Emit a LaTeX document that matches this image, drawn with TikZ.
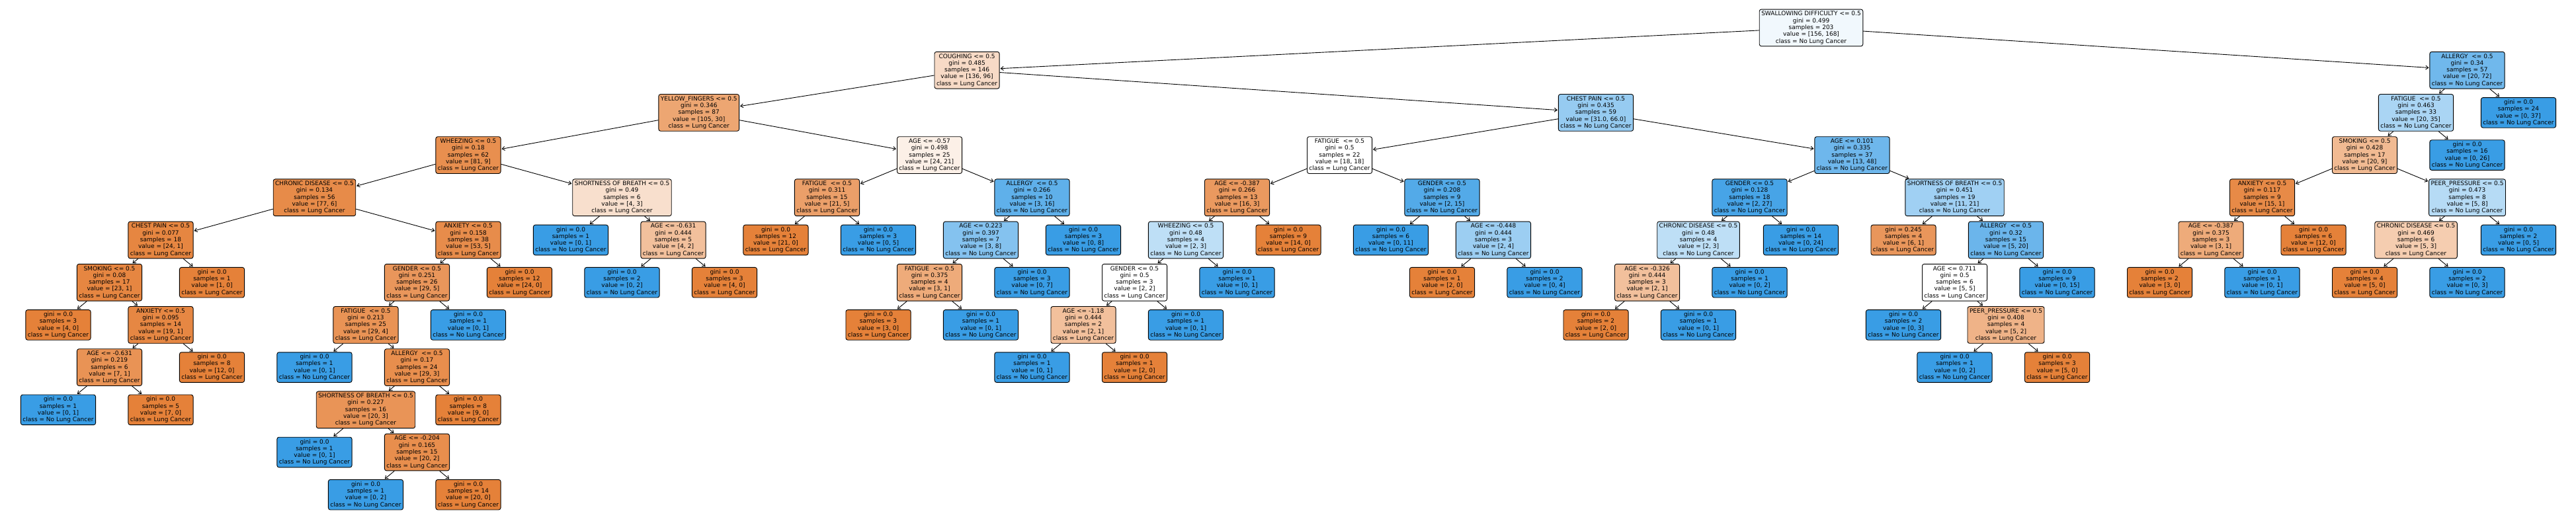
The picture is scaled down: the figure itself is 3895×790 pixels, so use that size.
\documentclass[tikz,border=0pt]{standalone}
\usepackage{fontspec}
\setmainfont{DejaVu Sans}
\usetikzlibrary{arrows.meta}
\definecolor{lungc}{HTML}{E58139}
\definecolor{nolc}{HTML}{399DE5}
\newcommand\clsLC{Lung Cancer}
\newcommand\clsNLC{No Lung Cancer}
\newcommand\dsplit[5]{#1\\gini = #2\\samples = #3\\value = [#4]\\class = #5}
\newcommand\dleaf[4]{gini = #1\\samples = #2\\value = [#3]\\class = #4}
\tikzset{
  tnode/.style={draw=black, line width=0.9pt, rounded corners=3pt, align=center,
    inner xsep=3pt, inner ysep=3pt, font=\fontsize{9}{10.3}\selectfont},
  lc/.style={tnode, fill=lungc!#1!white},
  nl/.style={tnode, fill=nolc!#1!white},
  edge/.style={-{Straight Barb[length=4pt,width=6pt]}, line width=0.9pt, shorten >=1pt}
}

\begin{document}
\begin{tikzpicture}[x=77.5pt, y=-64.2pt]
  \useasboundingbox (-10.5pt, 42pt) rectangle (3884.5pt, -748pt);

  % Root
  \node[nl=7] (n0) at (35.2, 0) {\dsplit{SWALLOWING DIFFICULTY <= 0.5}{0.499}{203}{156, 168}{\clsNLC}};
  \node[lc=29] (n1) at (18.73, 1) {\dsplit{COUGHING <= 0.5}{0.485}{146}{136, 96}{\clsLC}};

  % YELLOW_FINGERS branch
  \node[lc=71] (n2) at (13.5, 2) {\dsplit{YELLOW\_FINGERS <= 0.5}{0.346}{87}{105, 30}{\clsLC}};
  \node[lc=89] (n3) at (9, 3) {\dsplit{WHEEZING <= 0.5}{0.18}{62}{81, 9}{\clsLC}};
  \node[lc=92] (n4) at (6, 4) {\dsplit{CHRONIC DISEASE <= 0.5}{0.134}{56}{77, 6}{\clsLC}};
  \node[lc=96] (n5) at (3, 5) {\dsplit{CHEST PAIN <= 0.5}{0.077}{18}{24, 1}{\clsLC}};
  \node[lc=96] (n6) at (2, 6) {\dsplit{SMOKING <= 0.5}{0.08}{17}{23, 1}{\clsLC}};
  \node[lc=100] (n7) at (1, 7) {\dleaf{0.0}{3}{4, 0}{\clsLC}};
  \node[lc=95] (n8) at (3, 7) {\dsplit{ANXIETY <= 0.5}{0.095}{14}{19, 1}{\clsLC}};
  \node[lc=86] (n9) at (2, 8) {\dsplit{AGE <= -0.631}{0.219}{6}{7, 1}{\clsLC}};
  \node[nl=100] (n10) at (1, 9) {\dleaf{0.0}{1}{0, 1}{\clsNLC}};
  \node[lc=100] (n11) at (3, 9) {\dleaf{0.0}{5}{7, 0}{\clsLC}};
  \node[lc=100] (n12) at (4, 8) {\dleaf{0.0}{8}{12, 0}{\clsLC}};
  \node[lc=100] (n13) at (4, 6) {\dleaf{0.0}{1}{1, 0}{\clsLC}};
  \node[lc=91] (n14) at (9, 5) {\dsplit{ANXIETY <= 0.5}{0.158}{38}{53, 5}{\clsLC}};
  \node[lc=83] (n15) at (8, 6) {\dsplit{GENDER <= 0.5}{0.251}{26}{29, 5}{\clsLC}};
  \node[lc=86] (n16) at (7, 7) {\dsplit{FATIGUE ~<= 0.5}{0.213}{25}{29, 4}{\clsLC}};
  \node[nl=100] (n17) at (6, 8) {\dleaf{0.0}{1}{0, 1}{\clsNLC}};
  \node[lc=90] (n18) at (8, 8) {\dsplit{ALLERGY ~<= 0.5}{0.17}{24}{29, 3}{\clsLC}};
  \node[lc=85] (n19) at (7, 9) {\dsplit{SHORTNESS OF BREATH <= 0.5}{0.227}{16}{20, 3}{\clsLC}};
  \node[nl=100] (n20) at (6, 10) {\dleaf{0.0}{1}{0, 1}{\clsNLC}};
  \node[lc=90] (n21) at (8, 10) {\dsplit{AGE <= -0.204}{0.165}{15}{20, 2}{\clsLC}};
  \node[nl=100] (n22) at (7, 11) {\dleaf{0.0}{1}{0, 2}{\clsNLC}};
  \node[lc=100] (n23) at (9, 11) {\dleaf{0.0}{14}{20, 0}{\clsLC}};
  \node[lc=100] (n24) at (9, 9) {\dleaf{0.0}{8}{9, 0}{\clsLC}};
  \node[nl=100] (n25) at (9, 7) {\dleaf{0.0}{1}{0, 1}{\clsNLC}};
  \node[lc=100] (n26) at (10, 6) {\dleaf{0.0}{12}{24, 0}{\clsLC}};
  \node[lc=25] (n27) at (12, 4) {\dsplit{SHORTNESS OF BREATH <= 0.5}{0.49}{6}{4, 3}{\clsLC}};
  \node[nl=100] (n28) at (11, 5) {\dleaf{0.0}{1}{0, 1}{\clsNLC}};
  \node[lc=50] (n29) at (13, 5) {\dsplit{AGE <= -0.631}{0.444}{5}{4, 2}{\clsLC}};
  \node[nl=100] (n30) at (12, 6) {\dleaf{0.0}{2}{0, 2}{\clsNLC}};
  \node[lc=100] (n31) at (14, 6) {\dleaf{0.0}{3}{4, 0}{\clsLC}};
  \node[lc=12] (n32) at (18, 3) {\dsplit{AGE <= -0.57}{0.498}{25}{24, 21}{\clsLC}};
  \node[lc=76] (n33) at (16, 4) {\dsplit{FATIGUE ~<= 0.5}{0.311}{15}{21, 5}{\clsLC}};
  \node[lc=100] (n34) at (15, 5) {\dleaf{0.0}{12}{21, 0}{\clsLC}};
  \node[nl=100] (n35) at (17, 5) {\dleaf{0.0}{3}{0, 5}{\clsNLC}};
  \node[nl=81] (n36) at (20, 4) {\dsplit{ALLERGY ~<= 0.5}{0.266}{10}{3, 16}{\clsNLC}};
  \node[nl=62] (n37) at (19, 5) {\dsplit{AGE <= 0.223}{0.397}{7}{3, 8}{\clsNLC}};
  \node[lc=67] (n38) at (18, 6) {\dsplit{FATIGUE ~<= 0.5}{0.375}{4}{3, 1}{\clsLC}};
  \node[lc=100] (n39) at (17, 7) {\dleaf{0.0}{3}{3, 0}{\clsLC}};
  \node[nl=100] (n40) at (19, 7) {\dleaf{0.0}{1}{0, 1}{\clsNLC}};
  \node[nl=100] (n41) at (20, 6) {\dleaf{0.0}{3}{0, 7}{\clsNLC}};
  \node[nl=100] (n42) at (21, 5) {\dleaf{0.0}{3}{0, 8}{\clsNLC}};

  % CHEST PAIN branch
  \node[nl=53] (n43) at (31, 2) {\dsplit{CHEST PAIN <= 0.5}{0.435}{59}{31.0, 66.0}{\clsNLC}};
  \node[lc=0] (n44) at (26, 3) {\dsplit{FATIGUE ~<= 0.5}{0.5}{22}{18, 18}{\clsLC}};
  \node[lc=81] (n45) at (24, 4) {\dsplit{AGE <= -0.387}{0.266}{13}{16, 3}{\clsLC}};
  \node[nl=33] (n46) at (23, 5) {\dsplit{WHEEZING <= 0.5}{0.48}{4}{2, 3}{\clsNLC}};
  \node[lc=0] (n47) at (22, 6) {\dsplit{GENDER <= 0.5}{0.5}{3}{2, 2}{\clsLC}};
  \node[lc=50] (n48) at (21, 7) {\dsplit{AGE <= -1.18}{0.444}{2}{2, 1}{\clsLC}};
  \node[nl=100] (n49) at (20, 8) {\dleaf{0.0}{1}{0, 1}{\clsNLC}};
  \node[lc=100] (n50) at (22, 8) {\dleaf{0.0}{1}{2, 0}{\clsLC}};
  \node[nl=100] (n51) at (23, 7) {\dleaf{0.0}{1}{0, 1}{\clsNLC}};
  \node[nl=100] (n52) at (24, 6) {\dleaf{0.0}{1}{0, 1}{\clsNLC}};
  \node[lc=100] (n53) at (25, 5) {\dleaf{0.0}{9}{14, 0}{\clsLC}};
  \node[nl=87] (n54) at (28, 4) {\dsplit{GENDER <= 0.5}{0.208}{9}{2, 15}{\clsNLC}};
  \node[nl=100] (n55) at (27, 5) {\dleaf{0.0}{6}{0, 11}{\clsNLC}};
  \node[nl=50] (n56) at (29, 5) {\dsplit{AGE <= -0.448}{0.444}{3}{2, 4}{\clsNLC}};
  \node[lc=100] (n57) at (28, 6) {\dleaf{0.0}{1}{2, 0}{\clsLC}};
  \node[nl=100] (n58) at (30, 6) {\dleaf{0.0}{2}{0, 4}{\clsNLC}};
  \node[nl=73] (n59) at (36, 3) {\dsplit{AGE <= 0.101}{0.335}{37}{13, 48}{\clsNLC}};
  \node[nl=93] (n60) at (34, 4) {\dsplit{GENDER <= 0.5}{0.128}{18}{2, 27}{\clsNLC}};
  \node[nl=33] (n61) at (33, 5) {\dsplit{CHRONIC DISEASE <= 0.5}{0.48}{4}{2, 3}{\clsNLC}};
  \node[lc=50] (n62) at (32, 6) {\dsplit{AGE <= -0.326}{0.444}{3}{2, 1}{\clsLC}};
  \node[lc=100] (n63) at (31, 7) {\dleaf{0.0}{2}{2, 0}{\clsLC}};
  \node[nl=100] (n64) at (33, 7) {\dleaf{0.0}{1}{0, 1}{\clsNLC}};
  \node[nl=100] (n65) at (34, 6) {\dleaf{0.0}{1}{0, 2}{\clsNLC}};
  \node[nl=100] (n66) at (35, 5) {\dleaf{0.0}{14}{0, 24}{\clsNLC}};
  \node[nl=48] (n67) at (38, 4) {\dsplit{SHORTNESS OF BREATH <= 0.5}{0.451}{19}{11, 21}{\clsNLC}};
  \node[lc=83] (n68) at (37, 5) {\dleaf{0.245}{4}{6, 1}{\clsLC}};
  \node[nl=75] (n69) at (39, 5) {\dsplit{ALLERGY ~<= 0.5}{0.32}{15}{5, 20}{\clsNLC}};
  \node[lc=0] (n70) at (38, 6) {\dsplit{AGE <= 0.711}{0.5}{6}{5, 5}{\clsLC}};
  \node[nl=100] (n71) at (37, 7) {\dleaf{0.0}{2}{0, 3}{\clsNLC}};
  \node[lc=60] (n72) at (39, 7) {\dsplit{PEER\_PRESSURE <= 0.5}{0.408}{4}{5, 2}{\clsLC}};
  \node[nl=100] (n73) at (38, 8) {\dleaf{0.0}{1}{0, 2}{\clsNLC}};
  \node[lc=100] (n74) at (40, 8) {\dleaf{0.0}{3}{5, 0}{\clsLC}};
  \node[nl=100] (n75) at (40, 6) {\dleaf{0.0}{9}{0, 15}{\clsNLC}};

  % ALLERGY branch
  \node[nl=72] (n76) at (48, 1) {\dsplit{ALLERGY ~<= 0.5}{0.34}{57}{20, 72}{\clsNLC}};
  \node[nl=43] (n77) at (47, 2) {\dsplit{FATIGUE ~<= 0.5}{0.463}{33}{20, 35}{\clsNLC}};
  \node[lc=55] (n78) at (46, 3) {\dsplit{SMOKING <= 0.5}{0.428}{17}{20, 9}{\clsLC}};
  \node[lc=93] (n79) at (44, 4) {\dsplit{ANXIETY <= 0.5}{0.117}{9}{15, 1}{\clsLC}};
  \node[lc=67] (n80) at (43, 5) {\dsplit{AGE <= -0.387}{0.375}{3}{3, 1}{\clsLC}};
  \node[lc=100] (n81) at (42, 6) {\dleaf{0.0}{2}{3, 0}{\clsLC}};
  \node[nl=100] (n82) at (44, 6) {\dleaf{0.0}{1}{0, 1}{\clsNLC}};
  \node[lc=100] (n83) at (45, 5) {\dleaf{0.0}{6}{12, 0}{\clsLC}};
  \node[nl=37] (n84) at (48, 4) {\dsplit{PEER\_PRESSURE <= 0.5}{0.473}{8}{5, 8}{\clsNLC}};
  \node[lc=40] (n85) at (47, 5) {\dsplit{CHRONIC DISEASE <= 0.5}{0.469}{6}{5, 3}{\clsLC}};
  \node[lc=100] (n86) at (46, 6) {\dleaf{0.0}{4}{5, 0}{\clsLC}};
  \node[nl=100] (n87) at (48, 6) {\dleaf{0.0}{2}{0, 3}{\clsNLC}};
  \node[nl=100] (n88) at (49, 5) {\dleaf{0.0}{2}{0, 5}{\clsNLC}};
  \node[nl=100] (n89) at (48, 3) {\dleaf{0.0}{16}{0, 26}{\clsNLC}};
  \node[nl=100] (n90) at (49, 2) {\dleaf{0.0}{24}{0, 37}{\clsNLC}};

  % Parent -> child arrows
  \foreach \p/\c in {0/1, 0/76, 1/2, 1/43, 2/3, 2/32, 3/4, 3/27, 4/5, 4/14,
    5/6, 5/13, 6/7, 6/8, 8/9, 8/12, 9/10, 9/11, 14/15, 14/26, 15/16, 15/25,
    16/17, 16/18, 18/19, 18/24, 19/20, 19/21, 21/22, 21/23, 27/28, 27/29,
    29/30, 29/31, 32/33, 32/36, 33/34, 33/35, 36/37, 36/42, 37/38, 37/41,
    38/39, 38/40, 43/44, 43/59, 44/45, 44/54, 45/46, 45/53, 46/47, 46/52,
    47/48, 47/51, 48/49, 48/50, 54/55, 54/56, 56/57, 56/58, 59/60, 59/67,
    60/61, 60/66, 61/62, 61/65, 62/63, 62/64, 67/68, 67/69, 69/70, 69/75,
    70/71, 70/72, 72/73, 72/74, 76/77, 76/90, 77/78, 77/89, 78/79, 78/84,
    79/80, 79/83, 80/81, 80/82, 84/85, 84/88, 85/86, 85/87}
    \draw[edge] (n\p) -- (n\c);
\end{tikzpicture}
\end{document}
